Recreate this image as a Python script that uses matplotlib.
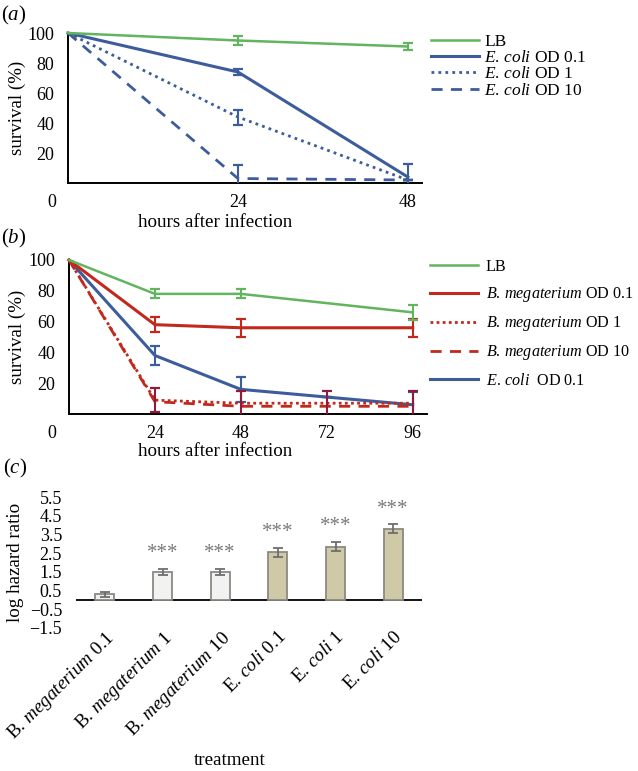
import matplotlib
matplotlib.use('Agg')
import matplotlib.pyplot as plt
import matplotlib.transforms as mtrans
import numpy as np

plt.rcParams['font.family'] = ['Liberation Serif', 'DejaVu Serif']
plt.rcParams['mathtext.fontset'] = 'custom'
plt.rcParams['mathtext.rm'] = 'Liberation Serif'
plt.rcParams['mathtext.it'] = 'Liberation Serif:italic'

# ---- data, panel (a)
hours_a = [0, 24, 48]
lb_a = [100, 95, 91]
lb_a_err = [0, 3, 2.5]
ecoli01_a = [100, 74, 4]
ecoli01_a_err = [0, 2, 9]
ecoli1_a = [100, 44, 2]
ecoli1_a_err = [0, 5, 0]
ecoli10_a = [100, 3, 2]
ecoli10_a_err = [0, 9, 0]

# ---- data, panel (b)
hours_b = [0, 24, 48, 72, 96]
hours_b_short = [0, 24, 48, 96]
lb_b = [100, 78, 78, 66]
lb_b_err = [0, 3, 3, 5]
bmeg01_b = [100, 58, 56, 56]
bmeg01_b_err = [0, 5, 6, 6]
bmeg1_b = [100, 9, 7, 7, 7]
bmeg1_b_err = [0, 8, 8, 8, 8]
bmeg10_b = [100, 8, 5, 5, 5]
ecoli01_b = [100, 38, 16, 11, 6]
ecoli01_b_err = [0, 6, 8, 0, 8]

# ---- data, panel (c)
treatments = [r"B. $\mathit{megaterium}$ 0.1", r"B. $\mathit{megaterium}$ 1",
              r"B. $\mathit{megaterium}$ 10", r"E. $\mathit{coli}$ 0.1",
              r"E. $\mathit{coli}$ 1", r"E. $\mathit{coli}$ 10"]
log_hr = [0.3, 1.5, 1.5, 2.55, 2.85, 3.8]
log_hr_err = [0.15, 0.15, 0.15, 0.25, 0.25, 0.25]
signif = ['', '***', '***', '***', '***', '***']
yticks_c = [-1.5, -0.5, 0.5, 1.5, 2.5, 3.5, 4.5, 5.5]

ECOLI = r'$\mathit{E.\,coli}$'
BMEG = r'$\mathit{B.\,megaterium}$'

green = '#62b45f'
blue = '#3d5c9c'
red = '#c2291d'
darkred = '#8e1b3c'
fs = 12.5
fl = 13.7

W, H = 638, 771
fig = plt.figure(figsize=(W / 100, H / 100), dpi=100)


def box(l, t, r, b):
    return [l / W, 1 - b / H, (r - l) / W, (b - t) / H]


def style_axes(ax, x0, xlabel_x, xlabel_y, ylabel_x):
    for s in ['top', 'right']:
        ax.spines[s].set_visible(False)
    for s in ['left', 'bottom']:
        ax.spines[s].set_linewidth(1.4)
    ax.tick_params(length=0, labelsize=fs + 0.5)
    ax.tick_params(axis='y', pad=10)
    ax.tick_params(axis='x', pad=8)
    ax.set_ylim(0, 100)
    ax.set_yticks([20, 40, 60, 80, 100])
    # the "0" sits in the y-label column
    lab0 = ax.get_xticklabels()[0]
    lab0.set_transform(lab0.get_transform() +
                       mtrans.ScaledTranslation(-x0 / 100, 0, fig.dpi_scale_trans))
    ax.set_xlabel('hours after infection', fontsize=fl)
    ax.xaxis.set_label_coords(xlabel_x, xlabel_y)
    ax.set_ylabel('survival (%)', fontsize=fl)
    ax.yaxis.set_label_coords(ylabel_x, 0.5)


def series(ax, x, y, err, color, ls, lw, label, ecolor=None):
    ln, = ax.plot(x, y, color=color, ls=ls, lw=lw, label=label, clip_on=False, zorder=3)
    if err is not None:
        ax.errorbar(x, y, yerr=err, fmt='none', ecolor=ecolor or color,
                    elinewidth=1.5, capsize=3.5, capthick=1.6, zorder=3)
    return ln


# ---------------- (a)
ax_a = fig.add_axes(box(68, 33, 422, 183))
series(ax_a, hours_a, ecoli10_a, ecoli10_a_err, blue, (0, (4, 3)), 2.0, ECOLI + ' OD 10')
series(ax_a, hours_a, ecoli1_a, ecoli1_a_err, blue, (0, (1, 1.5)), 2.0, ECOLI + ' OD 1')
series(ax_a, hours_a, ecoli01_a, ecoli01_a_err, blue, '-', 2.2, ECOLI + ' OD 0.1')
series(ax_a, hours_a, lb_a, lb_a_err, green, '-', 1.8, 'LB')
ax_a.set_xlim(0, 50)
ax_a.set_xticks(hours_a)
ax_a.set_xticklabels([str(h) for h in hours_a])
style_axes(ax_a, 16, (215 - 68) / 354, -(214 - 183) / 150, -(68 - 26) / 354)
h, l = ax_a.get_legend_handles_labels()
ax_a.legend(h[::-1], l[::-1], loc='upper left', bbox_to_anchor=(431 / W, 1 - 34 / H),
            bbox_transform=fig.transFigure, frameon=False, fontsize=fs,
            handlelength=2.78, handletextpad=0.3, labelspacing=0.0,
            borderpad=0, borderaxespad=0)

# ---------------- (b)
ax_b = fig.add_axes(box(69, 260, 427, 414))
series(ax_b, hours_b, ecoli01_b, ecoli01_b_err, blue, '-', 2.2, ECOLI + '  OD 0.1')
series(ax_b, hours_b, bmeg10_b, None, red, (0, (4, 3)), 2.0, BMEG + ' OD 10')
series(ax_b, hours_b, bmeg1_b, bmeg1_b_err, red, (0, (1, 1.2)), 2.0, BMEG + ' OD 1', ecolor=darkred)
series(ax_b, hours_b_short, bmeg01_b, bmeg01_b_err, red, '-', 2.2, BMEG + ' OD 0.1')
series(ax_b, hours_b_short, lb_b, lb_b_err, green, '-', 1.8, 'LB')
ax_b.set_xlim(0, 100)
ax_b.set_xticks(hours_b)
ax_b.set_xticklabels([str(h) for h in hours_b])
style_axes(ax_b, 17, (215 - 69) / 358, -(443 - 414) / 154, -(69 - 26) / 358)
h, l = ax_b.get_legend_handles_labels()
order = [4, 3, 2, 1, 0]
ax_b.legend([h[i] for i in order], [l[i] for i in order], loc='upper left',
            bbox_to_anchor=(430 / W, 1 - 259 / H), bbox_transform=fig.transFigure,
            frameon=False, fontsize=11.6, handlelength=2.95, handletextpad=0.5,
            labelspacing=0.63, borderpad=0, borderaxespad=0)

# ---------------- (c)
ax_c = fig.add_axes(box(76, 497, 422, 628))
xc = np.arange(len(treatments))
colors_c = ['#f2f2f2'] * 3 + ['#cfc9a7'] * 3
ax_c.bar(xc, log_hr, width=0.33, color=colors_c, edgecolor='#8a8a84', linewidth=1.3, zorder=2)
ax_c.errorbar(xc, log_hr, yerr=log_hr_err, fmt='none', ecolor='#6e6e6e',
              elinewidth=1.3, capsize=3.5, capthick=1.3, zorder=3)
for xi, v, e, s in zip(xc, log_hr, log_hr_err, signif):
    ax_c.text(xi, v + e + 0.3, s, ha='center', va='bottom', fontsize=15, color='#7a7a7a')
ax_c.axhline(0, color='black', lw=1.3, zorder=1)
ax_c.set_xlim(-0.5, 5.5)
ax_c.set_ylim(-1.5, 5.5)
for s in ax_c.spines.values():
    s.set_visible(False)
ax_c.set_yticks(yticks_c)
ax_c.set_yticklabels([f'{v:.1f}'.replace('-', '\u2212') for v in yticks_c])
ax_c.set_xticks(xc)
ax_c.set_xticklabels(treatments, rotation=45, ha='right', rotation_mode='anchor')
ax_c.tick_params(length=0, labelsize=fs + 0.5)
ax_c.tick_params(axis='y', pad=10)
ax_c.tick_params(axis='x', pad=0, labelsize=13.8)
ax_c.set_ylabel('log hazard ratio', fontsize=fl)
ax_c.yaxis.set_label_coords(-(76 - 24) / 346, 0.5)
ax_c.set_xlabel('treatment', fontsize=fl)
ax_c.xaxis.set_label_coords((230 - 76) / 346, -(752 - 628) / 131)

# panel letters
fig.text(14 / W, 1 - 15 / H, r'($\mathit{a}$)', fontsize=15, ha='center', va='center')
fig.text(14 / W, 1 - 238 / H, r'($\mathit{b}$)', fontsize=15, ha='center', va='center')
fig.text(15 / W, 1 - 468 / H, r'($\mathit{c}$)', fontsize=15, ha='center', va='center')

fig.savefig('out.png', dpi=100)
